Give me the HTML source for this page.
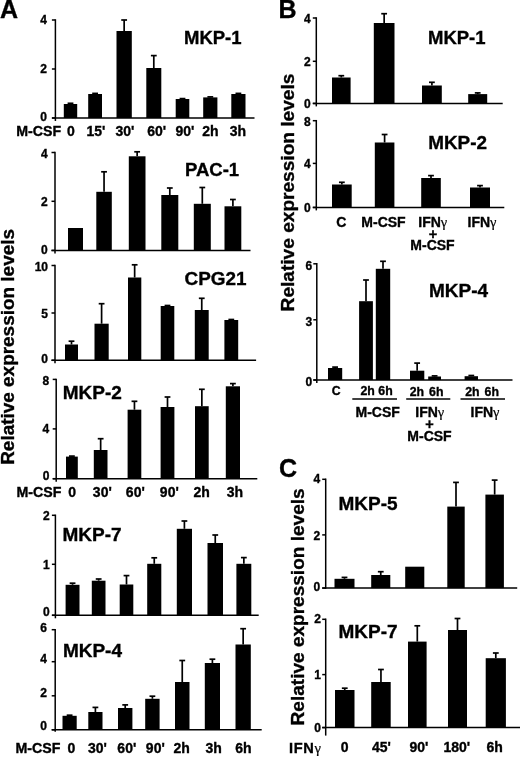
<!DOCTYPE html>
<html lang="en">
<head>
<meta charset="utf-8">
<title>Figure</title>
<style>
html,body{margin:0;padding:0;background:#fff;}
body{width:520px;height:757px;overflow:hidden;}
svg{display:block;font-family:'Liberation Sans', sans-serif;font-weight:bold;fill:#000;}
text{stroke:#000;stroke-width:0.35px;}
</style>
</head>
<body>
<svg width="520" height="757" viewBox="0 0 520 757">
<rect x="0" y="0" width="520" height="757" fill="#fff"/>
<line x1="55.40" y1="19.25" x2="55.40" y2="121.00" stroke="#000" stroke-width="1.5"/>
<line x1="51.90" y1="118.00" x2="254.50" y2="118.00" stroke="#000" stroke-width="1.5"/>
<line x1="51.90" y1="20.00" x2="55.40" y2="20.00" stroke="#000" stroke-width="1.5"/>
<text x="46.90" y="24.00" font-size="12" text-anchor="end">4</text>
<line x1="51.90" y1="69.00" x2="55.40" y2="69.00" stroke="#000" stroke-width="1.5"/>
<text x="46.90" y="73.30" font-size="12" text-anchor="end">2</text>
<line x1="51.90" y1="118.00" x2="55.40" y2="118.00" stroke="#000" stroke-width="1.5"/>
<text x="46.90" y="120.80" font-size="12" text-anchor="end">0</text>
<rect x="63.80" y="104.00" width="13.40" height="14.00"/>
<line x1="70.50" y1="103.30" x2="70.50" y2="104.00" stroke="#000" stroke-width="1.7"/>
<line x1="67.60" y1="103.30" x2="73.40" y2="103.30" stroke="#000" stroke-width="1.7"/>
<rect x="88.20" y="94.00" width="13.80" height="24.00"/>
<line x1="95.10" y1="93.40" x2="95.10" y2="94.00" stroke="#000" stroke-width="1.7"/>
<line x1="92.20" y1="93.40" x2="98.00" y2="93.40" stroke="#000" stroke-width="1.7"/>
<rect x="116.50" y="31.00" width="15.30" height="87.00"/>
<line x1="124.15" y1="20.00" x2="124.15" y2="31.00" stroke="#000" stroke-width="1.7"/>
<line x1="121.25" y1="20.00" x2="127.05" y2="20.00" stroke="#000" stroke-width="1.7"/>
<rect x="146.30" y="68.00" width="15.00" height="50.00"/>
<line x1="153.80" y1="55.60" x2="153.80" y2="68.00" stroke="#000" stroke-width="1.7"/>
<line x1="150.90" y1="55.60" x2="156.70" y2="55.60" stroke="#000" stroke-width="1.7"/>
<rect x="175.70" y="99.00" width="13.60" height="19.00"/>
<line x1="182.50" y1="98.60" x2="182.50" y2="99.00" stroke="#000" stroke-width="1.7"/>
<line x1="179.60" y1="98.60" x2="185.40" y2="98.60" stroke="#000" stroke-width="1.7"/>
<rect x="203.20" y="97.40" width="14.20" height="20.60"/>
<line x1="210.30" y1="96.90" x2="210.30" y2="97.40" stroke="#000" stroke-width="1.7"/>
<line x1="207.40" y1="96.90" x2="213.20" y2="96.90" stroke="#000" stroke-width="1.7"/>
<rect x="231.30" y="94.00" width="14.20" height="24.00"/>
<line x1="238.40" y1="93.40" x2="238.40" y2="94.00" stroke="#000" stroke-width="1.7"/>
<line x1="235.50" y1="93.40" x2="241.30" y2="93.40" stroke="#000" stroke-width="1.7"/>
<text x="184.00" y="44.30" font-size="18.5" text-anchor="start">MKP-1</text>
<line x1="55.00" y1="151.75" x2="55.00" y2="253.40" stroke="#000" stroke-width="1.5"/>
<line x1="51.50" y1="250.40" x2="250.50" y2="250.40" stroke="#000" stroke-width="1.5"/>
<line x1="51.50" y1="152.50" x2="55.00" y2="152.50" stroke="#000" stroke-width="1.5"/>
<text x="47.60" y="157.80" font-size="12" text-anchor="end">4</text>
<line x1="51.50" y1="201.30" x2="55.00" y2="201.30" stroke="#000" stroke-width="1.5"/>
<text x="47.60" y="205.60" font-size="12" text-anchor="end">2</text>
<line x1="51.50" y1="250.40" x2="55.00" y2="250.40" stroke="#000" stroke-width="1.5"/>
<text x="47.60" y="254.30" font-size="12" text-anchor="end">0</text>
<rect x="68.00" y="228.00" width="15.00" height="22.40"/>
<rect x="96.30" y="191.80" width="15.50" height="58.60"/>
<line x1="104.05" y1="171.80" x2="104.05" y2="191.80" stroke="#000" stroke-width="1.7"/>
<line x1="101.15" y1="171.80" x2="106.95" y2="171.80" stroke="#000" stroke-width="1.7"/>
<rect x="128.80" y="156.30" width="16.70" height="94.10"/>
<line x1="137.15" y1="151.80" x2="137.15" y2="156.30" stroke="#000" stroke-width="1.7"/>
<line x1="134.25" y1="151.80" x2="140.05" y2="151.80" stroke="#000" stroke-width="1.7"/>
<rect x="161.30" y="195.00" width="17.00" height="55.40"/>
<line x1="169.80" y1="188.00" x2="169.80" y2="195.00" stroke="#000" stroke-width="1.7"/>
<line x1="166.90" y1="188.00" x2="172.70" y2="188.00" stroke="#000" stroke-width="1.7"/>
<rect x="193.80" y="203.80" width="17.00" height="46.60"/>
<line x1="202.30" y1="187.50" x2="202.30" y2="203.80" stroke="#000" stroke-width="1.7"/>
<line x1="199.40" y1="187.50" x2="205.20" y2="187.50" stroke="#000" stroke-width="1.7"/>
<rect x="224.50" y="206.30" width="16.80" height="44.10"/>
<line x1="232.90" y1="199.50" x2="232.90" y2="206.30" stroke="#000" stroke-width="1.7"/>
<line x1="230.00" y1="199.50" x2="235.80" y2="199.50" stroke="#000" stroke-width="1.7"/>
<text x="185.00" y="175.50" font-size="18.5" text-anchor="start">PAC-1</text>
<line x1="55.00" y1="264.75" x2="55.00" y2="363.30" stroke="#000" stroke-width="1.5"/>
<line x1="51.50" y1="360.30" x2="256.10" y2="360.30" stroke="#000" stroke-width="1.5"/>
<line x1="51.50" y1="265.50" x2="55.00" y2="265.50" stroke="#000" stroke-width="1.5"/>
<text x="48.00" y="271.10" font-size="12" text-anchor="end">10</text>
<line x1="51.50" y1="313.00" x2="55.00" y2="313.00" stroke="#000" stroke-width="1.5"/>
<text x="48.00" y="317.60" font-size="12" text-anchor="end">5</text>
<line x1="51.50" y1="360.30" x2="55.00" y2="360.30" stroke="#000" stroke-width="1.5"/>
<text x="48.00" y="362.90" font-size="12" text-anchor="end">0</text>
<rect x="65.00" y="344.50" width="13.00" height="15.80"/>
<line x1="71.50" y1="341.20" x2="71.50" y2="344.50" stroke="#000" stroke-width="1.7"/>
<line x1="68.60" y1="341.20" x2="74.40" y2="341.20" stroke="#000" stroke-width="1.7"/>
<rect x="94.50" y="323.70" width="14.20" height="36.60"/>
<line x1="101.60" y1="303.70" x2="101.60" y2="323.70" stroke="#000" stroke-width="1.7"/>
<line x1="98.70" y1="303.70" x2="104.50" y2="303.70" stroke="#000" stroke-width="1.7"/>
<rect x="128.00" y="277.50" width="13.30" height="82.80"/>
<line x1="134.65" y1="264.80" x2="134.65" y2="277.50" stroke="#000" stroke-width="1.7"/>
<line x1="131.75" y1="264.80" x2="137.55" y2="264.80" stroke="#000" stroke-width="1.7"/>
<rect x="160.70" y="306.00" width="13.60" height="54.30"/>
<line x1="167.50" y1="305.50" x2="167.50" y2="306.00" stroke="#000" stroke-width="1.7"/>
<line x1="164.60" y1="305.50" x2="170.40" y2="305.50" stroke="#000" stroke-width="1.7"/>
<rect x="194.80" y="310.00" width="13.90" height="50.30"/>
<line x1="201.75" y1="298.30" x2="201.75" y2="310.00" stroke="#000" stroke-width="1.7"/>
<line x1="198.85" y1="298.30" x2="204.65" y2="298.30" stroke="#000" stroke-width="1.7"/>
<rect x="224.40" y="320.00" width="13.80" height="40.30"/>
<line x1="231.30" y1="319.50" x2="231.30" y2="320.00" stroke="#000" stroke-width="1.7"/>
<line x1="228.40" y1="319.50" x2="234.20" y2="319.50" stroke="#000" stroke-width="1.7"/>
<text x="184.50" y="285.20" font-size="18.9" text-anchor="start">CPG21</text>
<line x1="56.20" y1="378.65" x2="56.20" y2="481.70" stroke="#000" stroke-width="1.5"/>
<line x1="52.70" y1="478.70" x2="257.30" y2="478.70" stroke="#000" stroke-width="1.5"/>
<line x1="52.70" y1="379.40" x2="56.20" y2="379.40" stroke="#000" stroke-width="1.5"/>
<text x="49.20" y="384.50" font-size="12" text-anchor="end">8</text>
<line x1="52.70" y1="428.90" x2="56.20" y2="428.90" stroke="#000" stroke-width="1.5"/>
<text x="49.20" y="433.20" font-size="12" text-anchor="end">4</text>
<line x1="52.70" y1="478.70" x2="56.20" y2="478.70" stroke="#000" stroke-width="1.5"/>
<text x="49.50" y="479.60" font-size="12" text-anchor="end">0</text>
<rect x="66.00" y="456.60" width="11.80" height="22.10"/>
<line x1="71.90" y1="456.10" x2="71.90" y2="456.60" stroke="#000" stroke-width="1.7"/>
<line x1="69.00" y1="456.10" x2="74.80" y2="456.10" stroke="#000" stroke-width="1.7"/>
<rect x="93.80" y="450.00" width="13.70" height="28.70"/>
<line x1="100.65" y1="438.70" x2="100.65" y2="450.00" stroke="#000" stroke-width="1.7"/>
<line x1="97.75" y1="438.70" x2="103.55" y2="438.70" stroke="#000" stroke-width="1.7"/>
<rect x="127.60" y="409.70" width="13.70" height="69.00"/>
<line x1="134.45" y1="401.30" x2="134.45" y2="409.70" stroke="#000" stroke-width="1.7"/>
<line x1="131.55" y1="401.30" x2="137.35" y2="401.30" stroke="#000" stroke-width="1.7"/>
<rect x="160.60" y="407.00" width="13.80" height="71.70"/>
<line x1="167.50" y1="397.00" x2="167.50" y2="407.00" stroke="#000" stroke-width="1.7"/>
<line x1="164.60" y1="397.00" x2="170.40" y2="397.00" stroke="#000" stroke-width="1.7"/>
<rect x="195.00" y="406.20" width="13.70" height="72.50"/>
<line x1="201.85" y1="389.30" x2="201.85" y2="406.20" stroke="#000" stroke-width="1.7"/>
<line x1="198.95" y1="389.30" x2="204.75" y2="389.30" stroke="#000" stroke-width="1.7"/>
<rect x="225.80" y="386.30" width="14.20" height="92.40"/>
<line x1="232.90" y1="383.60" x2="232.90" y2="386.30" stroke="#000" stroke-width="1.7"/>
<line x1="230.00" y1="383.60" x2="235.80" y2="383.60" stroke="#000" stroke-width="1.7"/>
<text x="62.80" y="399.20" font-size="19" text-anchor="start">MKP-2</text>
<line x1="55.40" y1="514.55" x2="55.40" y2="618.30" stroke="#000" stroke-width="1.5"/>
<line x1="51.90" y1="615.30" x2="258.70" y2="615.30" stroke="#000" stroke-width="1.5"/>
<line x1="51.90" y1="515.30" x2="55.40" y2="515.30" stroke="#000" stroke-width="1.5"/>
<text x="49.80" y="519.60" font-size="12" text-anchor="end">2</text>
<line x1="51.90" y1="564.30" x2="55.40" y2="564.30" stroke="#000" stroke-width="1.5"/>
<text x="49.80" y="569.10" font-size="12" text-anchor="end">1</text>
<line x1="51.90" y1="615.30" x2="55.40" y2="615.30" stroke="#000" stroke-width="1.5"/>
<text x="49.80" y="615.90" font-size="12" text-anchor="end">0</text>
<rect x="65.60" y="584.80" width="13.90" height="30.50"/>
<line x1="72.55" y1="583.20" x2="72.55" y2="584.80" stroke="#000" stroke-width="1.7"/>
<line x1="69.65" y1="583.20" x2="75.45" y2="583.20" stroke="#000" stroke-width="1.7"/>
<rect x="91.80" y="580.70" width="13.70" height="34.60"/>
<line x1="98.65" y1="579.00" x2="98.65" y2="580.70" stroke="#000" stroke-width="1.7"/>
<line x1="95.75" y1="579.00" x2="101.55" y2="579.00" stroke="#000" stroke-width="1.7"/>
<rect x="119.70" y="584.50" width="13.60" height="30.80"/>
<line x1="126.50" y1="575.60" x2="126.50" y2="584.50" stroke="#000" stroke-width="1.7"/>
<line x1="123.60" y1="575.60" x2="129.40" y2="575.60" stroke="#000" stroke-width="1.7"/>
<rect x="147.20" y="563.80" width="14.10" height="51.50"/>
<line x1="154.25" y1="557.80" x2="154.25" y2="563.80" stroke="#000" stroke-width="1.7"/>
<line x1="151.35" y1="557.80" x2="157.15" y2="557.80" stroke="#000" stroke-width="1.7"/>
<rect x="176.80" y="528.80" width="15.20" height="86.50"/>
<line x1="184.40" y1="521.00" x2="184.40" y2="528.80" stroke="#000" stroke-width="1.7"/>
<line x1="181.50" y1="521.00" x2="187.30" y2="521.00" stroke="#000" stroke-width="1.7"/>
<rect x="207.50" y="543.00" width="15.50" height="72.30"/>
<line x1="215.25" y1="535.00" x2="215.25" y2="543.00" stroke="#000" stroke-width="1.7"/>
<line x1="212.35" y1="535.00" x2="218.15" y2="535.00" stroke="#000" stroke-width="1.7"/>
<rect x="236.40" y="563.80" width="14.90" height="51.50"/>
<line x1="243.85" y1="557.60" x2="243.85" y2="563.80" stroke="#000" stroke-width="1.7"/>
<line x1="240.95" y1="557.60" x2="246.75" y2="557.60" stroke="#000" stroke-width="1.7"/>
<text x="62.50" y="540.80" font-size="19" text-anchor="start">MKP-7</text>
<line x1="55.20" y1="628.95" x2="55.20" y2="731.80" stroke="#000" stroke-width="1.5"/>
<line x1="51.70" y1="729.80" x2="261.70" y2="729.80" stroke="#000" stroke-width="1.5"/>
<line x1="51.70" y1="629.70" x2="55.20" y2="629.70" stroke="#000" stroke-width="1.5"/>
<text x="47.00" y="631.60" font-size="12" text-anchor="end">6</text>
<line x1="51.70" y1="661.70" x2="55.20" y2="661.70" stroke="#000" stroke-width="1.5"/>
<text x="47.00" y="663.30" font-size="12" text-anchor="end">4</text>
<line x1="51.70" y1="695.80" x2="55.20" y2="695.80" stroke="#000" stroke-width="1.5"/>
<text x="47.00" y="697.10" font-size="12" text-anchor="end">2</text>
<line x1="51.70" y1="729.80" x2="55.20" y2="729.80" stroke="#000" stroke-width="1.5"/>
<text x="47.00" y="729.80" font-size="12" text-anchor="end">0</text>
<rect x="62.50" y="715.80" width="14.20" height="14.00"/>
<line x1="69.60" y1="715.20" x2="69.60" y2="715.80" stroke="#000" stroke-width="1.7"/>
<line x1="66.70" y1="715.20" x2="72.50" y2="715.20" stroke="#000" stroke-width="1.7"/>
<rect x="88.30" y="712.00" width="14.20" height="17.80"/>
<line x1="95.40" y1="707.40" x2="95.40" y2="712.00" stroke="#000" stroke-width="1.7"/>
<line x1="92.50" y1="707.40" x2="98.30" y2="707.40" stroke="#000" stroke-width="1.7"/>
<rect x="118.00" y="708.00" width="14.40" height="21.80"/>
<line x1="125.20" y1="704.90" x2="125.20" y2="708.00" stroke="#000" stroke-width="1.7"/>
<line x1="122.30" y1="704.90" x2="128.10" y2="704.90" stroke="#000" stroke-width="1.7"/>
<rect x="145.20" y="698.80" width="14.40" height="31.00"/>
<line x1="152.40" y1="696.20" x2="152.40" y2="698.80" stroke="#000" stroke-width="1.7"/>
<line x1="149.50" y1="696.20" x2="155.30" y2="696.20" stroke="#000" stroke-width="1.7"/>
<rect x="175.00" y="682.00" width="14.50" height="47.80"/>
<line x1="182.25" y1="660.50" x2="182.25" y2="682.00" stroke="#000" stroke-width="1.7"/>
<line x1="179.35" y1="660.50" x2="185.15" y2="660.50" stroke="#000" stroke-width="1.7"/>
<rect x="204.80" y="663.00" width="15.20" height="66.80"/>
<line x1="212.40" y1="659.20" x2="212.40" y2="663.00" stroke="#000" stroke-width="1.7"/>
<line x1="209.50" y1="659.20" x2="215.30" y2="659.20" stroke="#000" stroke-width="1.7"/>
<rect x="235.50" y="644.50" width="15.30" height="85.30"/>
<line x1="243.15" y1="628.70" x2="243.15" y2="644.50" stroke="#000" stroke-width="1.7"/>
<line x1="240.25" y1="628.70" x2="246.05" y2="628.70" stroke="#000" stroke-width="1.7"/>
<text x="62.90" y="657.10" font-size="19" text-anchor="start">MKP-4</text>
<line x1="316.30" y1="17.25" x2="316.30" y2="106.40" stroke="#000" stroke-width="1.5"/>
<line x1="312.80" y1="103.40" x2="502.70" y2="103.40" stroke="#000" stroke-width="1.5"/>
<line x1="312.80" y1="18.00" x2="316.30" y2="18.00" stroke="#000" stroke-width="1.5"/>
<text x="310.80" y="22.60" font-size="12" text-anchor="end">4</text>
<line x1="312.80" y1="61.30" x2="316.30" y2="61.30" stroke="#000" stroke-width="1.5"/>
<text x="310.80" y="65.60" font-size="12" text-anchor="end">2</text>
<line x1="312.80" y1="103.40" x2="316.30" y2="103.40" stroke="#000" stroke-width="1.5"/>
<text x="310.80" y="107.70" font-size="12" text-anchor="end">0</text>
<rect x="332.00" y="77.50" width="18.60" height="25.90"/>
<line x1="341.30" y1="75.70" x2="341.30" y2="77.50" stroke="#000" stroke-width="1.7"/>
<line x1="338.40" y1="75.70" x2="344.20" y2="75.70" stroke="#000" stroke-width="1.7"/>
<rect x="373.80" y="23.00" width="20.70" height="80.40"/>
<line x1="384.15" y1="13.70" x2="384.15" y2="23.00" stroke="#000" stroke-width="1.7"/>
<line x1="381.25" y1="13.70" x2="387.05" y2="13.70" stroke="#000" stroke-width="1.7"/>
<rect x="422.00" y="85.50" width="19.80" height="17.90"/>
<line x1="431.90" y1="82.30" x2="431.90" y2="85.50" stroke="#000" stroke-width="1.7"/>
<line x1="429.00" y1="82.30" x2="434.80" y2="82.30" stroke="#000" stroke-width="1.7"/>
<rect x="468.20" y="94.10" width="19.00" height="9.30"/>
<line x1="477.70" y1="92.90" x2="477.70" y2="94.10" stroke="#000" stroke-width="1.7"/>
<line x1="474.80" y1="92.90" x2="480.60" y2="92.90" stroke="#000" stroke-width="1.7"/>
<text x="428.00" y="44.30" font-size="18.5" text-anchor="start">MKP-1</text>
<line x1="316.30" y1="119.95" x2="316.30" y2="210.40" stroke="#000" stroke-width="1.5"/>
<line x1="312.80" y1="207.40" x2="504.30" y2="207.40" stroke="#000" stroke-width="1.5"/>
<line x1="312.80" y1="120.70" x2="316.30" y2="120.70" stroke="#000" stroke-width="1.5"/>
<text x="310.80" y="125.50" font-size="12" text-anchor="end">8</text>
<line x1="312.80" y1="163.40" x2="316.30" y2="163.40" stroke="#000" stroke-width="1.5"/>
<text x="310.80" y="168.20" font-size="12" text-anchor="end">4</text>
<line x1="312.80" y1="207.40" x2="316.30" y2="207.40" stroke="#000" stroke-width="1.5"/>
<text x="310.80" y="212.20" font-size="12" text-anchor="end">0</text>
<rect x="332.00" y="184.50" width="19.70" height="22.90"/>
<line x1="341.85" y1="182.30" x2="341.85" y2="184.50" stroke="#000" stroke-width="1.7"/>
<line x1="338.95" y1="182.30" x2="344.75" y2="182.30" stroke="#000" stroke-width="1.7"/>
<rect x="374.80" y="142.50" width="19.60" height="64.90"/>
<line x1="384.60" y1="134.50" x2="384.60" y2="142.50" stroke="#000" stroke-width="1.7"/>
<line x1="381.70" y1="134.50" x2="387.50" y2="134.50" stroke="#000" stroke-width="1.7"/>
<rect x="421.20" y="178.00" width="19.60" height="29.40"/>
<line x1="431.00" y1="175.60" x2="431.00" y2="178.00" stroke="#000" stroke-width="1.7"/>
<line x1="428.10" y1="175.60" x2="433.90" y2="175.60" stroke="#000" stroke-width="1.7"/>
<rect x="470.00" y="187.50" width="20.00" height="19.90"/>
<line x1="480.00" y1="185.60" x2="480.00" y2="187.50" stroke="#000" stroke-width="1.7"/>
<line x1="477.10" y1="185.60" x2="482.90" y2="185.60" stroke="#000" stroke-width="1.7"/>
<text x="428.20" y="149.40" font-size="18.9" text-anchor="start">MKP-2</text>
<line x1="316.80" y1="263.05" x2="316.80" y2="383.00" stroke="#000" stroke-width="1.5"/>
<line x1="313.30" y1="380.00" x2="512.50" y2="380.00" stroke="#000" stroke-width="1.5"/>
<line x1="313.30" y1="263.80" x2="316.80" y2="263.80" stroke="#000" stroke-width="1.5"/>
<text x="312.20" y="269.60" font-size="12" text-anchor="end">6</text>
<line x1="313.30" y1="319.80" x2="316.80" y2="319.80" stroke="#000" stroke-width="1.5"/>
<text x="312.20" y="325.60" font-size="12" text-anchor="end">3</text>
<line x1="313.30" y1="380.00" x2="316.80" y2="380.00" stroke="#000" stroke-width="1.5"/>
<text x="312.20" y="385.80" font-size="12" text-anchor="end">0</text>
<rect x="328.00" y="368.00" width="14.20" height="12.00"/>
<line x1="335.10" y1="367.10" x2="335.10" y2="368.00" stroke="#000" stroke-width="1.7"/>
<line x1="332.20" y1="367.10" x2="338.00" y2="367.10" stroke="#000" stroke-width="1.7"/>
<rect x="359.10" y="301.20" width="13.80" height="78.80"/>
<line x1="366.00" y1="280.00" x2="366.00" y2="301.20" stroke="#000" stroke-width="1.7"/>
<line x1="363.10" y1="280.00" x2="368.90" y2="280.00" stroke="#000" stroke-width="1.7"/>
<rect x="375.80" y="268.80" width="14.40" height="111.20"/>
<line x1="383.00" y1="261.30" x2="383.00" y2="268.80" stroke="#000" stroke-width="1.7"/>
<line x1="380.10" y1="261.30" x2="385.90" y2="261.30" stroke="#000" stroke-width="1.7"/>
<rect x="410.00" y="370.70" width="14.30" height="9.30"/>
<line x1="417.15" y1="363.10" x2="417.15" y2="370.70" stroke="#000" stroke-width="1.7"/>
<line x1="414.25" y1="363.10" x2="420.05" y2="363.10" stroke="#000" stroke-width="1.7"/>
<rect x="428.20" y="376.50" width="12.80" height="3.50"/>
<line x1="434.60" y1="375.90" x2="434.60" y2="376.50" stroke="#000" stroke-width="1.7"/>
<line x1="431.70" y1="375.90" x2="437.50" y2="375.90" stroke="#000" stroke-width="1.7"/>
<rect x="464.60" y="376.20" width="13.40" height="3.80"/>
<line x1="471.30" y1="375.50" x2="471.30" y2="376.20" stroke="#000" stroke-width="1.7"/>
<line x1="468.40" y1="375.50" x2="474.20" y2="375.50" stroke="#000" stroke-width="1.7"/>
<text x="429.00" y="297.40" font-size="19" text-anchor="start">MKP-4</text>
<line x1="325.70" y1="478.55" x2="325.70" y2="588.85" stroke="#000" stroke-width="1.5"/>
<line x1="322.20" y1="588.10" x2="517.20" y2="588.10" stroke="#000" stroke-width="1.5"/>
<line x1="322.20" y1="479.30" x2="325.70" y2="479.30" stroke="#000" stroke-width="1.5"/>
<text x="320.20" y="482.90" font-size="12" text-anchor="end">4</text>
<line x1="322.20" y1="534.90" x2="325.70" y2="534.90" stroke="#000" stroke-width="1.5"/>
<text x="320.20" y="539.50" font-size="12" text-anchor="end">2</text>
<line x1="322.20" y1="588.10" x2="325.70" y2="588.10" stroke="#000" stroke-width="1.5"/>
<text x="320.20" y="590.80" font-size="12" text-anchor="end">0</text>
<rect x="334.50" y="578.80" width="20.00" height="9.30"/>
<line x1="344.50" y1="577.40" x2="344.50" y2="578.80" stroke="#000" stroke-width="1.7"/>
<line x1="341.60" y1="577.40" x2="347.40" y2="577.40" stroke="#000" stroke-width="1.7"/>
<rect x="371.20" y="575.00" width="19.10" height="13.10"/>
<line x1="380.75" y1="571.70" x2="380.75" y2="575.00" stroke="#000" stroke-width="1.7"/>
<line x1="377.85" y1="571.70" x2="383.65" y2="571.70" stroke="#000" stroke-width="1.7"/>
<rect x="405.20" y="566.70" width="19.10" height="21.40"/>
<rect x="447.30" y="506.60" width="17.40" height="81.50"/>
<line x1="456.00" y1="482.40" x2="456.00" y2="506.60" stroke="#000" stroke-width="1.7"/>
<line x1="453.10" y1="482.40" x2="458.90" y2="482.40" stroke="#000" stroke-width="1.7"/>
<rect x="485.40" y="494.60" width="18.50" height="93.50"/>
<line x1="494.65" y1="480.10" x2="494.65" y2="494.60" stroke="#000" stroke-width="1.7"/>
<line x1="491.75" y1="480.10" x2="497.55" y2="480.10" stroke="#000" stroke-width="1.7"/>
<text x="338.50" y="510.30" font-size="19" text-anchor="start">MKP-5</text>
<line x1="325.70" y1="618.55" x2="325.70" y2="735.60" stroke="#000" stroke-width="1.5"/>
<line x1="322.20" y1="727.60" x2="520.00" y2="727.60" stroke="#000" stroke-width="1.5"/>
<line x1="322.20" y1="619.30" x2="325.70" y2="619.30" stroke="#000" stroke-width="1.5"/>
<text x="320.90" y="623.10" font-size="12" text-anchor="end">2</text>
<line x1="322.20" y1="674.60" x2="325.70" y2="674.60" stroke="#000" stroke-width="1.5"/>
<text x="320.90" y="678.90" font-size="12" text-anchor="end">1</text>
<line x1="322.20" y1="727.60" x2="325.70" y2="727.60" stroke="#000" stroke-width="1.5"/>
<text x="320.90" y="731.50" font-size="12" text-anchor="end">0</text>
<rect x="335.00" y="690.00" width="19.50" height="37.60"/>
<line x1="344.75" y1="688.20" x2="344.75" y2="690.00" stroke="#000" stroke-width="1.7"/>
<line x1="341.85" y1="688.20" x2="347.65" y2="688.20" stroke="#000" stroke-width="1.7"/>
<rect x="371.20" y="682.00" width="19.50" height="45.60"/>
<line x1="380.95" y1="669.50" x2="380.95" y2="682.00" stroke="#000" stroke-width="1.7"/>
<line x1="378.05" y1="669.50" x2="383.85" y2="669.50" stroke="#000" stroke-width="1.7"/>
<rect x="408.00" y="641.60" width="18.60" height="86.00"/>
<line x1="417.30" y1="625.80" x2="417.30" y2="641.60" stroke="#000" stroke-width="1.7"/>
<line x1="414.40" y1="625.80" x2="420.20" y2="625.80" stroke="#000" stroke-width="1.7"/>
<rect x="448.00" y="630.00" width="19.00" height="97.60"/>
<line x1="457.50" y1="618.50" x2="457.50" y2="630.00" stroke="#000" stroke-width="1.7"/>
<line x1="454.60" y1="618.50" x2="460.40" y2="618.50" stroke="#000" stroke-width="1.7"/>
<rect x="485.70" y="658.20" width="20.20" height="69.40"/>
<line x1="495.80" y1="653.00" x2="495.80" y2="658.20" stroke="#000" stroke-width="1.7"/>
<line x1="492.90" y1="653.00" x2="498.70" y2="653.00" stroke="#000" stroke-width="1.7"/>
<text x="338.50" y="637.60" font-size="19" text-anchor="start">MKP-7</text>
<text x="0.00" y="17.70" font-size="25" text-anchor="start" stroke="none">A</text>
<text x="278.50" y="17.50" font-size="25" text-anchor="start" stroke="none">B</text>
<text x="279.00" y="476.70" font-size="25" text-anchor="start" stroke="none">C</text>
<text x="16.30" y="135.80" font-size="14.2" text-anchor="start">M-CSF</text>
<text x="71.00" y="135.80" font-size="14" text-anchor="middle">0</text>
<text x="96.00" y="135.80" font-size="14" text-anchor="middle">15'</text>
<text x="125.00" y="135.80" font-size="14" text-anchor="middle">30'</text>
<text x="156.60" y="135.80" font-size="14" text-anchor="middle">60'</text>
<text x="185.00" y="135.80" font-size="14" text-anchor="middle">90'</text>
<text x="210.50" y="135.80" font-size="14" text-anchor="middle">2h</text>
<text x="238.00" y="135.80" font-size="14" text-anchor="middle">3h</text>
<text x="16.50" y="497.20" font-size="14.2" text-anchor="start">M-CSF</text>
<text x="72.10" y="497.20" font-size="14" text-anchor="middle">0</text>
<text x="102.30" y="497.20" font-size="14" text-anchor="middle">30'</text>
<text x="135.30" y="497.20" font-size="14" text-anchor="middle">60'</text>
<text x="169.30" y="497.20" font-size="14" text-anchor="middle">90'</text>
<text x="201.70" y="497.20" font-size="14" text-anchor="middle">2h</text>
<text x="235.00" y="497.20" font-size="14" text-anchor="middle">3h</text>
<text x="15.50" y="752.60" font-size="14.2" text-anchor="start">M-CSF</text>
<text x="71.30" y="753.40" font-size="14" text-anchor="middle">0</text>
<text x="97.50" y="753.40" font-size="14" text-anchor="middle">30'</text>
<text x="126.80" y="753.40" font-size="14" text-anchor="middle">60'</text>
<text x="155.30" y="753.40" font-size="14" text-anchor="middle">90'</text>
<text x="181.70" y="753.40" font-size="14" text-anchor="middle">2h</text>
<text x="213.70" y="753.40" font-size="14" text-anchor="middle">3h</text>
<text x="243.50" y="753.40" font-size="14" text-anchor="middle">6h</text>
<text x="341.20" y="226.50" font-size="14" text-anchor="middle">C</text>
<text x="383.50" y="226.50" font-size="14" text-anchor="middle">M-CSF</text>
<text x="432.80" y="226.50" font-size="14" text-anchor="middle">IFN<tspan font-family="Liberation Serif, serif" font-weight="normal" font-size="14.5" stroke-width="0.2">γ</tspan></text>
<text x="482.00" y="226.50" font-size="14" text-anchor="middle">IFN<tspan font-family="Liberation Serif, serif" font-weight="normal" font-size="14.5" stroke-width="0.2">γ</tspan></text>
<text x="433.00" y="238.80" font-size="14.5" text-anchor="middle" stroke-width="0.7">+</text>
<text x="432.50" y="250.40" font-size="14" text-anchor="middle">M-CSF</text>
<text x="336.30" y="395.30" font-size="12.3" text-anchor="middle">C</text>
<text x="376.60" y="395.30" font-size="12.3" text-anchor="middle">2h 6h</text>
<text x="426.60" y="395.50" font-size="12.3" text-anchor="middle" word-spacing="1.5">2h 6h</text>
<text x="482.10" y="395.80" font-size="12.3" text-anchor="middle" word-spacing="1.5">2h 6h</text>
<text x="377.70" y="416.70" font-size="14" text-anchor="middle">M-CSF</text>
<text x="429.80" y="416.70" font-size="14" text-anchor="middle">IFN<tspan font-family="Liberation Serif, serif" font-weight="normal" font-size="14.5" stroke-width="0.2">γ</tspan></text>
<text x="485.00" y="416.70" font-size="14" text-anchor="middle">IFN<tspan font-family="Liberation Serif, serif" font-weight="normal" font-size="14.5" stroke-width="0.2">γ</tspan></text>
<text x="429.50" y="428.90" font-size="14.5" text-anchor="middle" stroke-width="0.7">+</text>
<text x="429.50" y="440.50" font-size="14" text-anchor="middle">M-CSF</text>
<text x="344.70" y="752.20" font-size="14" text-anchor="middle">0</text>
<text x="381.40" y="752.20" font-size="14" text-anchor="middle">45'</text>
<text x="418.90" y="752.20" font-size="14" text-anchor="middle">90'</text>
<text x="456.80" y="752.20" font-size="14" text-anchor="middle">180'</text>
<text x="494.70" y="752.20" font-size="14" text-anchor="middle">6h</text>
<text x="288.90" y="752.80" font-size="14.6" text-anchor="start" letter-spacing="0.7">IFN<tspan font-family="Liberation Serif, serif" font-weight="normal" font-size="14.6" stroke-width="0.2">γ</tspan></text>
<text transform="translate(13.60,346.90) rotate(-90)" font-size="18.95" text-anchor="middle">Relative expression levels</text>
<text transform="translate(293.90,192.50) rotate(-90)" font-size="19.1" text-anchor="middle">Relative expression levels</text>
<text transform="translate(304.00,606.90) rotate(-90)" font-size="19.05" text-anchor="middle">Relative expression levels</text>
<line x1="352.30" y1="398.90" x2="397.00" y2="398.90" stroke="#000" stroke-width="1.5"/>
<line x1="406.20" y1="398.90" x2="450.30" y2="398.90" stroke="#000" stroke-width="1.5"/>
<line x1="460.50" y1="398.90" x2="505.00" y2="398.90" stroke="#000" stroke-width="1.5"/>
</svg>
</body>
</html>
